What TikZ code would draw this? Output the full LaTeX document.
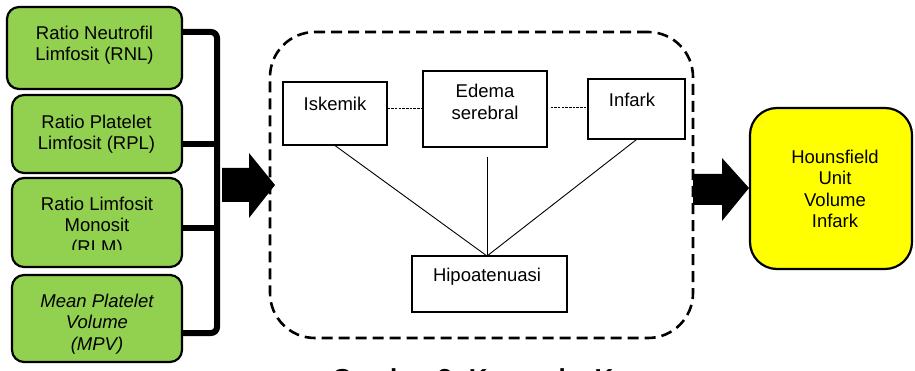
\documentclass[tikz,border=0pt]{standalone}
\usepackage{fontspec}
\setmainfont{Liberation Sans}
\definecolor{gfill}{HTML}{92D050}
\definecolor{yfill}{HTML}{FFFF00}
\begin{document}
\begin{tikzpicture}[x=1pt,y=-1pt,
  gbox/.style={draw=black, line width=2.2pt, fill=gfill, rounded corners=12pt, inner sep=0pt},
  ybox/.style={draw=black, line width=2.2pt, fill=yfill, rounded corners=27pt, inner sep=0pt},
  ibox/.style={draw=black, line width=1.1pt, fill=white, inner sep=0pt},
  txt/.style={font=\fontsize{18.5}{21.5}\selectfont, align=center, inner sep=0pt},
  brk/.style={draw=black, line width=6pt, rounded corners=6pt},
  frm/.style={draw=black, line width=2.6pt, dash pattern=on 11pt off 6pt, rounded corners=45pt, inner sep=0pt},
  dline/.style={draw=black, line width=0.8pt, dash pattern=on 2.5pt off 1.2pt},
  sline/.style={draw=black, line width=0.9pt},
  blk/.style={fill=black, draw=none}]
\useasboundingbox (0,0) rectangle (915,371);
\clip (0,0) rectangle (915,371);

% left green boxes
\node[gbox, minimum width=175pt, minimum height=82pt] (b1) at (94.5,48) {};
\node[gbox, minimum width=170pt, minimum height=78pt] (b2) at (97,134) {};
\node[gbox, minimum width=170pt, minimum height=89pt] (b3) at (97,222.5) {};
\node[gbox, minimum width=170pt, minimum height=87pt] (b4) at (97,318.5) {};
\node[txt] (t1) at (94.5,45) {Ratio Neutrofil\\Limfosit (RNL)};
\node[txt] (t2) at (96.5,134) {Ratio Platelet\\Limfosit (RPL)};
\begin{scope}
  \clip (12,178) rectangle (182,250);
  \node[txt] (t3) at (97,227) {Ratio Limfosit\\Monosit\\(RLM)};
\end{scope}
\node[txt, font=\fontsize{18.5}{21.5}\selectfont\itshape] (t4) at (97,324) {Mean Platelet\\Volume\\(MPV)};

% bracket
\draw[brk] (b1.east |- 0,32) -- (217,32) -- (217,333) -- (b4.east |- 0,333);
\draw[line width=6pt] (b2.east |- 0,144) -- (217,144);
\draw[line width=6pt] (b3.east |- 0,228) -- (217,228);

% dashed frame
\node[frm, minimum width=423pt, minimum height=306pt] (frame) at (481.5,185) {};

% block arrows
\coordinate (a1) at (275,185);
\fill[blk] (222,168) -- (249,168) -- (249,153) -- (a1) -- (249,218) -- (249,202) -- (222,202) -- cycle;
\coordinate (a2) at (749,188);
\fill[blk] (693,174) -- (722,174) -- (722,158) -- (a2) -- (722,221) -- (722,205) -- (693,205) -- cycle;

% inner boxes
\node[ibox, minimum width=104pt, minimum height=63pt] (isk) at (335,113.5) {};
\node[ibox, minimum width=124pt, minimum height=76pt] (ede) at (485,109) {};
\node[ibox, minimum width=97pt, minimum height=60pt] (inf) at (636.5,109) {};
\node[ibox, minimum width=155pt, minimum height=56pt] (hip) at (489.5,284) {};
\node[txt] (tisk) at (335,103.5) {Iskemik};
\node[txt] (tede) at (485,102) {Edema\\serebral};
\node[txt] (tinf) at (632,100) {Infark};
\node[txt] (thip) at (487,277) {Hipoatenuasi};

% connectors
\draw[dline] (isk.east |- 0,108) -- (ede.west |- 0,108);
\draw[dline] ([xshift=3pt]ede.east |- 0,107) -- (inf.west |- 0,107);
\coordinate (j) at (487,256);
\coordinate (ev) at (487,157);
\draw[sline] (isk.south) -- (j);
\draw[sline] (ev) -- (j);
\draw[sline] (inf.south) -- (j);

% output box
\node[ybox, minimum width=162pt, minimum height=161pt] (out) at (831,188.5) {};
\node[txt] (tout) at (835,189) {Hounsfield\\Unit\\Volume\\Infark};

% caption (cut by the page edge, as in the reference)
\node[font=\fontsize{26}{30}\selectfont\bfseries, anchor=base west, inner sep=0pt] (cap) at (332,387.5) {Gambar 3. Kerangka Konsep};
\end{tikzpicture}
\end{document}
